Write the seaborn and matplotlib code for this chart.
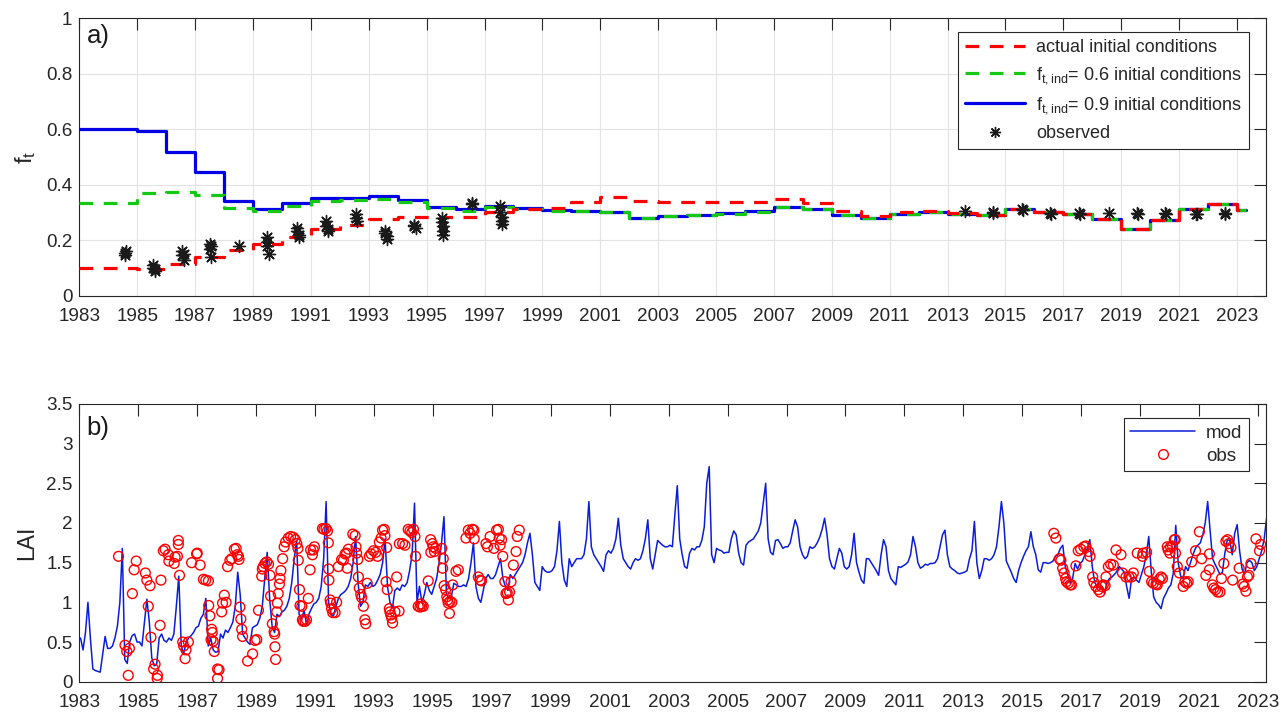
import numpy as np
import matplotlib
matplotlib.use("Agg")
import matplotlib.pyplot as plt
from matplotlib.lines import Line2D
from matplotlib.ticker import FuncFormatter, MultipleLocator
import seaborn as sns

# ---------------- panel a: yearly f_t for three initial-condition runs ----------------
ft_years = list(range(1983, 2024))
ft_end = 2023.3  # last simulated date

ft_actual = [0.100, 0.100, 0.097, 0.114, 0.141, 0.165, 0.185, 0.213, 0.239, 0.256,
             0.275, 0.285, 0.282, 0.284, 0.300, 0.314, 0.317, 0.339, 0.355, 0.340,
             0.338, 0.338, 0.338, 0.338, 0.347, 0.335, 0.305, 0.287, 0.300, 0.306,
             0.299, 0.291, 0.313, 0.303, 0.294, 0.276, 0.239, 0.274, 0.314, 0.330,
             0.308]
ft_ind06 = [0.333, 0.333, 0.369, 0.374, 0.362, 0.317, 0.304, 0.323, 0.340, 0.344,
            0.349, 0.338, 0.317, 0.306, 0.320, 0.314, 0.306, 0.305, 0.302, 0.280,
            0.287, 0.290, 0.296, 0.303, 0.320, 0.312, 0.290, 0.279, 0.296, 0.303,
            0.294, 0.290, 0.314, 0.300, 0.294, 0.276, 0.239, 0.274, 0.314, 0.330,
            0.308]
ft_ind09 = [0.600, 0.600, 0.594, 0.518, 0.447, 0.343, 0.311, 0.334, 0.352, 0.352,
            0.358, 0.344, 0.321, 0.311, 0.325, 0.317, 0.309, 0.306, 0.303, 0.281,
            0.288, 0.291, 0.297, 0.304, 0.321, 0.312, 0.291, 0.279, 0.296, 0.303,
            0.293, 0.290, 0.314, 0.300, 0.294, 0.276, 0.239, 0.274, 0.314, 0.330,
            0.308]

# observed f_t (decimal year, value)
ft_obs_time = [1984.58, 1984.58, 1984.60, 1985.55, 1985.55, 1985.60, 1985.60,
               1986.55, 1986.55, 1986.60, 1986.60, 1987.50, 1987.50, 1987.55, 1987.55,
               1988.51, 1989.50, 1989.50, 1989.50, 1989.55, 1990.52, 1990.52, 1990.58,
               1990.58, 1991.52, 1991.52, 1991.58, 1991.58, 1992.55, 1992.55, 1992.60,
               1993.57, 1993.57, 1993.62, 1993.62, 1994.57, 1994.57, 1994.62,
               1995.53, 1995.53, 1995.58, 1995.58, 1995.58, 1996.58, 1996.58,
               1997.55, 1997.55, 1997.60, 1997.60, 1997.60,
               2013.59, 2014.56, 2014.58, 2015.58, 2015.60, 2016.55, 2016.57,
               2017.55, 2017.57, 2018.59, 2019.55, 2019.57, 2020.52, 2020.54,
               2021.58, 2021.60, 2022.58, 2022.60]
ft_obs = [0.145, 0.155, 0.160, 0.110, 0.100, 0.095, 0.090,
          0.160, 0.145, 0.130, 0.150, 0.185, 0.170, 0.140, 0.180,
          0.180, 0.210, 0.195, 0.180, 0.150, 0.245, 0.235, 0.220,
          0.210, 0.270, 0.250, 0.240, 0.235, 0.295, 0.280, 0.270,
          0.235, 0.225, 0.215, 0.205, 0.255, 0.250, 0.245,
          0.280, 0.265, 0.250, 0.235, 0.220, 0.335, 0.330,
          0.325, 0.300, 0.285, 0.270, 0.260,
          0.305, 0.300, 0.297, 0.314, 0.308, 0.298, 0.295,
          0.297, 0.295, 0.297, 0.297, 0.296, 0.298, 0.296,
          0.295, 0.293, 0.297, 0.295]

# ---------------- panel b: LAI, monthly model output from Jan 1983 ----------------
lai_start = 1983
lai_mod = [
    0.55, 0.40, 0.62, 1.00, 0.55, 0.16, 0.14, 0.13, 0.12, 0.35, 0.57, 0.42,  # 1983
    0.42, 0.45, 0.55, 0.70, 1.00, 1.68, 0.28, 0.23, 0.50, 0.58, 0.60, 0.50,  # 1984
    0.50, 0.45, 0.75, 1.04, 0.75, 0.30, 0.20, 0.22, 0.55, 0.60, 0.52, 0.50,  # 1985
    0.55, 0.52, 0.60, 0.95, 1.33, 0.45, 0.35, 0.50, 0.55, 0.58, 0.62, 0.68,  # 1986
    0.70, 0.80, 0.85, 1.05, 0.45, 0.55, 0.40, 0.37, 0.38, 0.60, 0.55, 0.65,  # 1987
    0.62, 0.68, 0.75, 0.95, 1.38, 1.10, 0.60, 0.55, 0.50, 0.47, 0.68, 0.70,  # 1988
    0.72, 0.80, 0.95, 1.30, 1.63, 1.05, 0.70, 0.62, 0.85, 0.82, 0.88, 0.90,  # 1989
    0.95, 1.05, 1.25, 1.55, 1.78, 0.85, 0.78, 0.90, 0.72, 0.85, 0.92, 0.98,  # 1990
    1.00, 1.05, 1.20, 1.55, 2.27, 1.00, 0.85, 0.83, 0.95, 1.05, 1.10, 1.12,  # 1991
    1.15, 1.20, 1.30, 1.50, 1.83, 1.25, 0.95, 1.00, 1.22, 1.20, 1.25, 1.20,  # 1992
    1.22, 1.28, 1.35, 1.50, 1.80, 1.20, 1.00, 0.93, 1.15, 1.18, 1.15, 1.22,  # 1993
    1.20, 1.25, 1.40, 1.60, 2.25, 1.00, 1.20, 1.00, 1.10, 1.25, 1.15, 1.10,  # 1994
    1.20, 1.30, 1.50, 1.75, 2.08, 1.10, 1.05, 1.07, 1.24, 1.22, 1.20, 1.20,  # 1995
    1.22, 1.20, 1.30, 1.50, 1.75, 1.20, 1.05, 1.00, 1.15, 1.30, 1.35, 1.30,  # 1996
    1.30, 1.35, 1.45, 1.55, 1.30, 1.20, 1.15, 1.35, 1.30, 1.35, 1.40, 1.45,  # 1997
    1.50, 1.60, 1.75, 1.87, 1.60, 1.25, 1.20, 1.15, 1.45, 1.40, 1.38, 1.38,  # 1998
    1.40, 1.45, 1.65, 2.02, 1.50, 1.28, 1.20, 1.55, 1.45, 1.50, 1.55, 1.55,  # 1999
    1.55, 1.60, 1.80, 2.27, 1.70, 1.60, 1.55, 1.50, 1.45, 1.39, 1.60, 1.65,  # 2000
    1.62, 1.68, 1.80, 2.06, 1.72, 1.55, 1.50, 1.45, 1.42, 1.50, 1.55, 1.53,  # 2001
    1.55, 1.65, 1.80, 2.04, 1.55, 1.42, 1.60, 1.78, 1.75, 1.72, 1.70, 1.70,  # 2002
    1.72, 1.70, 2.10, 2.47, 1.80, 1.60, 1.45, 1.43, 1.62, 1.68, 1.66, 1.70,  # 2003
    1.70, 1.78, 1.95, 2.50, 2.71, 1.60, 1.50, 1.68, 1.66, 1.65, 1.62, 1.63,  # 2004
    1.63, 1.80, 1.90, 1.85, 1.62, 1.50, 1.47, 1.72, 1.76, 1.78, 1.80, 1.85,  # 2005
    1.90, 2.00, 2.25, 2.50, 1.80, 1.63, 1.60, 1.78, 1.79, 1.74, 1.68, 1.70,  # 2006
    1.70, 1.75, 1.90, 2.04, 1.95, 1.70, 1.60, 1.55, 1.58, 1.70, 1.68, 1.70,  # 2007
    1.75, 1.82, 1.92, 2.06, 1.85, 1.55, 1.45, 1.42, 1.55, 1.68, 1.62, 1.45,  # 2008
    1.42, 1.45, 1.60, 1.87, 1.50, 1.38, 1.28, 1.24, 1.55, 1.55, 1.50, 1.45,  # 2009
    1.40, 1.34, 1.60, 1.79, 1.70, 1.40, 1.30, 1.26, 1.22, 1.45, 1.44, 1.46,  # 2010
    1.48, 1.51, 1.60, 1.83, 1.70, 1.50, 1.43, 1.45, 1.48, 1.47, 1.49, 1.49,  # 2011
    1.50, 1.55, 1.70, 1.85, 1.91, 1.60, 1.45, 1.42, 1.40, 1.37, 1.36, 1.37,  # 2012
    1.38, 1.40, 1.55, 1.65, 2.02, 1.50, 1.30, 1.40, 1.55, 1.55, 1.53, 1.55,  # 2013
    1.60, 1.70, 1.95, 2.27, 2.00, 1.52, 1.45, 1.38, 1.30, 1.25, 1.40, 1.50,  # 2014
    1.58, 1.65, 1.70, 1.89, 1.70, 1.60, 1.41, 1.38, 1.50, 1.50, 1.49, 1.50,  # 2015
    1.52, 1.58, 1.60, 1.68, 1.72, 1.45, 1.35, 1.24, 1.30, 1.49, 1.42, 1.49,  # 2016
    1.52, 1.60, 1.68, 1.79, 1.45, 1.25, 1.20, 1.18, 1.20, 1.11, 1.25, 1.30,  # 2017
    1.32, 1.35, 1.39, 1.45, 1.42, 1.38, 1.20, 1.05, 1.30, 1.32, 1.28, 1.25,  # 2018
    1.35, 1.45, 1.60, 1.83, 1.40, 1.07, 1.00, 0.97, 0.92, 1.05, 1.11, 1.18,  # 2019
    1.22, 1.37, 1.97, 1.50, 1.33, 1.30, 1.45, 1.40, 1.50, 1.60, 1.68, 1.72,  # 2020
    1.75, 1.85, 2.00, 2.27, 1.90, 1.55, 1.48, 1.42, 1.35, 1.38, 1.62, 1.79,  # 2021
    1.78, 1.60, 1.87, 1.98, 1.65, 1.42, 1.35, 1.50, 1.53, 1.50, 1.40, 1.45,  # 2022
    1.55, 1.65, 1.80, 2.06,                                                  # 2023
]

# field LAI observations (decimal year, value)
lai_obs_time = [
    1984.33, 1984.55, 1984.61, 1984.70, 1984.66, 1984.80, 1984.86, 1984.93,
    1985.24, 1985.29, 1985.40, 1985.34, 1985.43, 1985.57, 1985.52, 1985.65, 1985.64,
    1985.77, 1985.74, 1985.85, 1985.91, 1986.02, 1986.04, 1986.22, 1986.25, 1986.33,
    1986.36, 1986.36, 1986.40, 1986.51, 1986.54, 1986.59, 1986.62, 1986.70,
    1986.81, 1986.98, 1987.00, 1987.10, 1987.21, 1987.29, 1987.38, 1987.39, 1987.43,
    1987.49, 1987.51, 1987.47, 1987.54, 1987.58, 1987.69, 1987.74, 1987.69,
    1987.83, 1987.86, 1987.92, 1987.98, 1988.03, 1988.11, 1988.17, 1988.26, 1988.32,
    1988.36, 1988.40, 1988.42, 1988.45, 1988.48, 1988.51, 1988.54, 1988.71, 1988.88,
    1988.96, 1989.02, 1989.08, 1989.19, 1989.21, 1989.24, 1989.30, 1989.36, 1989.42,
    1989.47, 1989.49, 1989.55, 1989.61, 1989.63, 1989.64, 1989.66, 1989.70, 1989.72,
    1989.75, 1989.79, 1989.81, 1989.84, 1989.90, 1989.95, 1990.00, 1990.09, 1990.17,
    1990.26, 1990.33, 1990.38, 1990.42, 1990.43, 1990.47, 1990.49, 1990.55, 1990.57,
    1990.60, 1990.66, 1990.71, 1990.77, 1990.83, 1990.85, 1990.91, 1990.94, 1990.98,
    1991.25, 1991.30, 1991.37, 1991.42, 1991.45, 1991.46, 1991.47, 1991.51, 1991.53,
    1991.56, 1991.60, 1991.68, 1991.73, 1991.79, 1991.90, 1991.96, 1992.02, 1992.07,
    1992.09, 1992.13, 1992.28, 1992.36, 1992.39, 1992.41, 1992.45, 1992.47, 1992.50,
    1992.55, 1992.58, 1992.64, 1992.69, 1992.72, 1992.77, 1992.84, 1992.90, 1992.98,
    1993.06, 1993.12, 1993.18, 1993.24, 1993.29, 1993.35, 1993.37, 1993.43, 1993.41,
    1993.45, 1993.52, 1993.54, 1993.57, 1993.60, 1993.63, 1993.71, 1993.85, 1993.77,
    1993.86, 1993.97, 1994.05, 1994.16, 1994.22, 1994.28, 1994.34, 1994.39, 1994.41,
    1994.50, 1994.56, 1994.62, 1994.67, 1994.59, 1994.84, 1994.92, 1994.98, 1995.01,
    1995.05, 1994.93, 1995.09, 1995.30, 1995.35, 1995.33, 1995.38, 1995.43, 1995.47,
    1995.50, 1995.52, 1995.56, 1995.58, 1995.64, 1995.67, 1995.78, 1995.86,
    1996.12, 1996.20, 1996.26, 1996.34, 1996.39, 1996.40, 1996.54, 1996.60, 1996.65,
    1996.80, 1996.85, 1996.94, 1997.07, 1997.16, 1997.22, 1997.25, 1997.28, 1997.33,
    1997.37, 1997.44, 1997.48, 1997.52, 1997.56, 1997.60, 1997.65, 1997.73, 1997.82,
    1997.86, 1997.93,
    2016.07, 2016.14, 2016.26, 2016.31, 2016.37, 2016.42, 2016.47, 2016.50, 2016.56,
    2016.62, 2016.67, 2016.82, 2016.90, 2016.98, 2017.09, 2017.16, 2017.25, 2017.30,
    2017.39, 2017.43, 2017.50, 2017.58, 2017.64, 2017.69, 2017.75, 2017.81, 2017.84,
    2017.92, 2018.00, 2018.09, 2018.18, 2018.35, 2018.40, 2018.52, 2018.62, 2018.71,
    2018.77, 2018.90, 2019.08, 2019.10, 2019.22, 2019.31, 2019.39, 2019.45, 2019.54,
    2019.58, 2019.65, 2019.71, 2019.76, 2019.92, 2019.95, 2020.01, 2020.03, 2020.10,
    2020.16, 2020.19, 2020.20, 2020.26, 2020.33, 2020.46, 2020.52, 2020.58, 2020.63,
    2020.75, 2020.88, 2021.01, 2021.09, 2021.23, 2021.35, 2021.35, 2021.45, 2021.50,
    2021.56, 2021.63, 2021.71, 2021.76, 2021.84, 2021.91, 2021.97, 2022.01, 2022.08,
    2022.14, 2022.36, 2022.48, 2022.53, 2022.59, 2022.64, 2022.69, 2022.76, 2022.93,
    2023.05, 2023.09,
]
lai_obs = [
    1.58, 0.46, 0.38, 0.42, 0.08, 1.11, 1.41, 1.52,
    1.37, 1.28, 1.21, 0.95, 0.56, 0.22, 0.16, 0.08, 0.04,
    1.28, 0.71, 1.65, 1.67, 1.60, 1.52, 1.49, 1.57, 1.58,
    1.73, 1.78, 1.34, 0.50, 0.45, 0.29, 0.40, 0.50,
    1.50, 1.61, 1.62, 1.47, 1.29, 1.28, 1.27, 0.96, 0.83,
    0.66, 0.62, 0.53, 0.51, 0.38, 0.16, 0.15, 0.04,
    0.88, 0.99, 1.09, 1.00, 1.45, 1.53, 1.55, 1.67, 1.68,
    1.60, 1.58, 1.54, 0.94, 0.79, 0.66, 0.57, 0.26, 0.35,
    0.52, 0.53, 0.90, 1.33, 1.42, 1.45, 1.49, 1.51, 1.48,
    1.34, 1.08, 0.73, 0.63, 0.60, 0.44, 0.28, 0.88, 0.99,
    1.11, 1.23, 1.30, 1.40, 1.55, 1.70, 1.76, 1.81, 1.83,
    1.82, 1.79, 1.74, 1.68, 1.53, 1.16, 0.96, 0.95, 0.78,
    0.76, 0.76, 0.78, 1.05, 1.41, 1.66, 1.60, 1.66, 1.70,
    1.93, 1.92, 1.93, 1.90, 1.75, 1.42, 1.28, 1.03, 0.99,
    0.92, 0.87, 0.87, 1.00, 1.45, 1.54, 1.53, 1.61, 1.62,
    1.43, 1.67, 1.86, 1.84, 1.70, 1.62, 1.54, 1.32, 1.18,
    1.10, 1.06, 0.95, 0.78, 0.73, 1.24, 1.58, 1.61, 1.65,
    1.63, 1.58, 1.76, 1.81, 1.91, 1.92, 1.84, 1.69, 1.26,
    1.16, 0.92, 0.88, 0.84, 0.80, 0.74, 0.88, 0.89, 1.32,
    1.74, 1.74, 1.72, 1.92, 1.90, 1.88, 1.92, 1.83, 1.58,
    0.95, 0.94, 0.95, 0.95, 0.98, 1.27, 1.79, 1.74, 1.70,
    1.64, 1.63, 1.68, 1.68, 1.55, 1.43, 1.21, 1.16, 1.07,
    1.03, 0.99, 0.86, 1.01, 1.00, 1.22, 1.39, 1.41,
    1.81, 1.91, 1.87, 1.92, 1.91, 1.80, 1.32, 1.28, 1.27,
    1.74, 1.70, 1.83, 1.68, 1.91, 1.92, 1.81, 1.72, 1.79,
    1.58, 1.26, 1.11, 1.12, 1.03, 1.13, 1.26, 1.47, 1.64,
    1.83, 1.91,
    1.87, 1.81, 1.55, 1.53, 1.43, 1.37, 1.30, 1.26, 1.24,
    1.22, 1.22, 1.46, 1.65, 1.67, 1.70, 1.71, 1.64, 1.58,
    1.32, 1.25, 1.20, 1.16, 1.13, 1.20, 1.22, 1.21, 1.32,
    1.45, 1.48, 1.47, 1.66, 1.60, 1.37, 1.32, 1.32, 1.32,
    1.37, 1.62, 1.58, 1.62, 1.63, 1.39, 1.26, 1.24, 1.23,
    1.22, 1.29, 1.32, 1.30, 1.70, 1.66, 1.62, 1.70, 1.71,
    1.79, 1.79, 1.62, 1.45, 1.37, 1.20, 1.26, 1.24, 1.26,
    1.51, 1.65, 1.89, 1.55, 1.34, 1.41, 1.61, 1.22, 1.18,
    1.16, 1.13, 1.13, 1.30, 1.49, 1.77, 1.79, 1.74, 1.69,
    1.28, 1.43, 1.23, 1.20, 1.14, 1.32, 1.34, 1.49, 1.80,
    1.65, 1.73,
]

year_ticks = list(range(1983, 2024, 2))

# ---------------- styling ----------------
sns.set_theme(style="white")
FG = "#262626"
plt.rcParams.update({
    "font.family": ["Liberation Sans", "DejaVu Sans"],
    "mathtext.default": "regular",
    "axes.edgecolor": FG,
    "axes.linewidth": 0.8,
    "text.color": FG,
    "axes.labelcolor": FG,
})

fig = plt.figure(figsize=(12.88, 7.12), dpi=100)
ax1 = fig.add_axes([0.0616, 0.5847, 0.9213, 0.3896])
ax2 = fig.add_axes([0.0616, 0.0426, 0.9213, 0.3900])

RED, GREEN, BLUE = "#ff0000", "#14c814", "#0000e6"
LAI_BLUE = "#0a1ed8"
DASH = (0, (4.3, 3.3))
num_fmt = FuncFormatter(lambda v, p: f"{v:g}")


def style_axes(ax):
    ax.tick_params(direction="in", length=8.5, width=0.8, top=True, right=True,
                   colors=FG, labelsize=13.6)
    ax.tick_params(axis="x", pad=9)
    ax.tick_params(axis="y", pad=5)
    ax.set_xticks(year_ticks)
    ax.set_xticklabels([str(y) for y in year_ticks])
    ax.yaxis.set_major_formatter(num_fmt)
    for s in ax.spines.values():
        s.set_visible(True)
        s.set_color(FG)
        s.set_linewidth(0.8)


# ---- panel a ----
step_x = ft_years + [ft_end]
sns.lineplot(x=step_x, y=ft_ind09 + [ft_ind09[-1]], ax=ax1, color=BLUE, lw=2.3,
             drawstyle="steps-post", zorder=3)
sns.lineplot(x=step_x, y=ft_ind06 + [ft_ind06[-1]], ax=ax1, color=GREEN, lw=2.3,
             linestyle=DASH, drawstyle="steps-post", zorder=4)
sns.lineplot(x=step_x, y=ft_actual + [ft_actual[-1]], ax=ax1, color=RED, lw=2.3,
             linestyle=DASH, drawstyle="steps-post", zorder=5)
sns.scatterplot(x=ft_obs_time, y=ft_obs, ax=ax1, marker=(8, 2, 0), s=75,
                color="k", linewidth=1.0, zorder=6)

ax1.set_xlim(1983, 2024)
ax1.set_ylim(0, 1)
ax1.yaxis.set_major_locator(MultipleLocator(0.2))
style_axes(ax1)
ax1.grid(True, color="#e3e3e3", lw=0.8)
ax1.set_axisbelow(True)
ax1.set_ylabel("f$_{t}$", fontsize=17, labelpad=6)
ax1.text(0.006, 0.978, "a)", transform=ax1.transAxes, fontsize=18.5,
         ha="left", va="top", color="k")

leg_a = [
    Line2D([], [], color=RED, lw=2.3, linestyle=DASH),
    Line2D([], [], color=GREEN, lw=2.3, linestyle=DASH),
    Line2D([], [], color=BLUE, lw=2.3),
    Line2D([], [], color="k", marker=(8, 2, 0), markersize=8, mew=1.0, linestyle="none"),
]
lab_a = ["actual initial conditions",
         "f$_{t,ind}$= 0.6 initial conditions",
         "f$_{t,ind}$= 0.9 initial conditions",
         "observed"]
lg = ax1.legend(leg_a, lab_a, loc="upper right", bbox_to_anchor=(0.9857, 0.9506),
                borderaxespad=0, fontsize=13, handlelength=3.3, handletextpad=0.6,
                labelspacing=0.5, borderpad=0.4, fancybox=False, framealpha=1)
lg.get_frame().set_edgecolor(FG)
lg.get_frame().set_linewidth(0.8)

# ---- panel b ----
lai_time = lai_start + (np.arange(len(lai_mod)) + 0.5) / 12.0
sns.lineplot(x=lai_time, y=lai_mod, ax=ax2, color=LAI_BLUE, lw=1.1, zorder=3)
sns.scatterplot(x=lai_obs_time, y=lai_obs, ax=ax2, marker="o", s=50,
                facecolors="none", edgecolor="#ff0000", linewidth=1.0, zorder=4)

ax2.set_xlim(1983, 2023.27)
ax2.set_ylim(0, 3.5)
ax2.yaxis.set_major_locator(MultipleLocator(0.5))
style_axes(ax2)
ax2.grid(False)
ax2.set_ylabel("LAI", fontsize=16.5, labelpad=6)
ax2.text(0.006, 0.955, "b)", transform=ax2.transAxes, fontsize=18.5,
         ha="left", va="top", color="k")

leg_b = [
    Line2D([], [], color=LAI_BLUE, lw=1.1),
    Line2D([], [], color="#ff0000", marker="o", markersize=7, mfc="none", mew=1.0,
           linestyle="none"),
]
lg2 = ax2.legend(leg_b, ["mod", "obs"], loc="upper right", bbox_to_anchor=(0.9857, 0.9496),
                 borderaxespad=0, fontsize=13.6, handlelength=3.4, handletextpad=0.6,
                 labelspacing=0.3, borderpad=0.35, fancybox=False, framealpha=1)
lg2.get_frame().set_edgecolor(FG)
lg2.get_frame().set_linewidth(0.8)

fig.savefig("out.png", dpi=100)
